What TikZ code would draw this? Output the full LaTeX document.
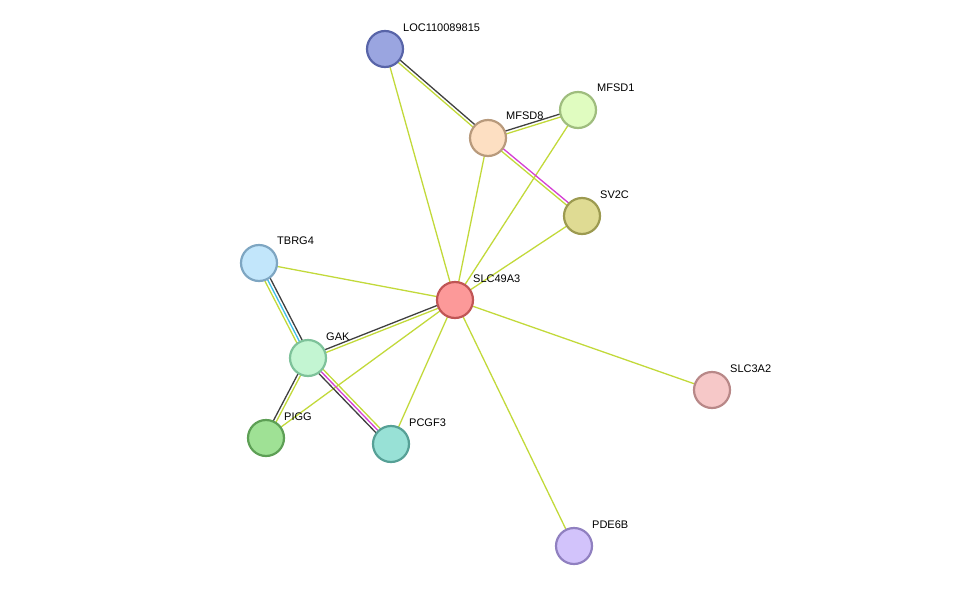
\documentclass[tikz,border=0pt]{standalone}
\usepackage{fontspec}
\setmainfont{Liberation Sans}
\usetikzlibrary{calc}
\definecolor{tm}{HTML}{C2D93A}
\definecolor{co}{HTML}{404040}
\definecolor{mg}{HTML}{D43FD4}
\definecolor{cy}{HTML}{3FBFE6}
\tikzset{
  prot/.style={circle,minimum size=36pt,inner sep=0pt,line width=2.2pt},
  lab/.style={anchor=west,font=\fontsize{11}{13}\selectfont,inner sep=0pt},
  e/.style={line width=1.3pt}
}
\newcommand{\ed}[4]{\draw[e,#4] ($(#1)!#3!90:(#2)$) -- ($(#2)!#3!-90:(#1)$);}
\begin{document}
\begin{tikzpicture}[x=1pt,y=-1pt]
\useasboundingbox (0,0) rectangle (975,592);
\coordinate (LOC) at (385,49);
\coordinate (MFSD8) at (488,138);
\coordinate (MFSD1) at (578,110);
\coordinate (SV2C) at (582,216);
\coordinate (TBRG4) at (259,263);
\coordinate (SLC) at (455,300);
\coordinate (GAK) at (308,358);
\coordinate (SLC3A2) at (712,390);
\coordinate (PIGG) at (266,438);
\coordinate (PCGF3) at (391,444);
\coordinate (PDE6B) at (574,546);
% single edges
\foreach \n in {LOC,MFSD8,MFSD1,SV2C,TBRG4,PIGG,PCGF3,SLC3A2,PDE6B}{\ed{SLC}{\n}{0pt}{tm}}
% multi edges
\ed{LOC}{MFSD8}{1.5pt}{co}\ed{LOC}{MFSD8}{-1.5pt}{tm}
\ed{MFSD8}{MFSD1}{1.5pt}{co}\ed{MFSD8}{MFSD1}{-1.5pt}{tm}
\ed{MFSD8}{SV2C}{1.5pt}{mg}\ed{MFSD8}{SV2C}{-1.5pt}{tm}
\ed{TBRG4}{GAK}{3pt}{co}\ed{TBRG4}{GAK}{0pt}{cy}\ed{TBRG4}{GAK}{-3pt}{tm}
\ed{GAK}{SLC}{1.5pt}{co}\ed{GAK}{SLC}{-1.5pt}{tm}
\ed{GAK}{PIGG}{-1.5pt}{co}\ed{GAK}{PIGG}{1.5pt}{tm}
\ed{GAK}{PCGF3}{-3pt}{co}\ed{GAK}{PCGF3}{0pt}{mg}\ed{GAK}{PCGF3}{3pt}{tm}
% nodes
\node[prot,fill={rgb,255:red,154;green,165;blue,224},draw={rgb,255:red,88;green,100;blue,168}] (nLOC) at (LOC) {};
\node[prot,fill={rgb,255:red,253;green,223;blue,194},draw={rgb,255:red,184;green,154;blue,124}] (nMFSD8) at (MFSD8) {};
\node[prot,fill={rgb,255:red,224;green,252;blue,192},draw={rgb,255:red,159;green,189;blue,126}] (nMFSD1) at (MFSD1) {};
\node[prot,fill={rgb,255:red,223;green,219;blue,147},draw={rgb,255:red,156;green,154;blue,80}] (nSV2C) at (SV2C) {};
\node[prot,fill={rgb,255:red,194;green,230;blue,251},draw={rgb,255:red,126;green,166;blue,194}] (nTBRG4) at (TBRG4) {};
\node[prot,fill={rgb,255:red,252;green,153;blue,153},draw={rgb,255:red,192;green,85;blue,85}] (nSLC) at (SLC) {};
\node[prot,fill={rgb,255:red,195;green,245;blue,210},draw={rgb,255:red,126;green,194;blue,154}] (nGAK) at (GAK) {};
\node[prot,fill={rgb,255:red,246;green,200;blue,200},draw={rgb,255:red,184;green,136;blue,136}] (nSLC3A2) at (SLC3A2) {};
\node[prot,fill={rgb,255:red,159;green,225;blue,149},draw={rgb,255:red,93;green,159;blue,85}] (nPIGG) at (PIGG) {};
\node[prot,fill={rgb,255:red,152;green,225;blue,214},draw={rgb,255:red,86;green,160;blue,150}] (nPCGF3) at (PCGF3) {};
\node[prot,fill={rgb,255:red,210;green,195;blue,251},draw={rgb,255:red,144;green,128;blue,192}] (nPDE6B) at (PDE6B) {};
% labels
\node[lab] (lLOC) at ($(LOC)+(18,-21)$) {LOC110089815};
\node[lab] (lMFSD8) at ($(MFSD8)+(18,-22)$) {MFSD8};
\node[lab] (lMFSD1) at ($(MFSD1)+(19,-22)$) {MFSD1};
\node[lab] (lSV2C) at ($(SV2C)+(18,-21)$) {SV2C};
\node[lab] (lTBRG4) at ($(TBRG4)+(18,-22)$) {TBRG4};
\node[lab] (lSLC) at ($(SLC)+(18,-21)$) {SLC49A3};
\node[lab] (lGAK) at ($(GAK)+(18,-21)$) {GAK};
\node[lab] (lSLC3A2) at ($(SLC3A2)+(18,-21)$) {SLC3A2};
\node[lab] (lPIGG) at ($(PIGG)+(18,-21)$) {PIGG};
\node[lab] (lPCGF3) at ($(PCGF3)+(18,-21)$) {PCGF3};
\node[lab] (lPDE6B) at ($(PDE6B)+(18,-21)$) {PDE6B};
\end{tikzpicture}
\end{document}
